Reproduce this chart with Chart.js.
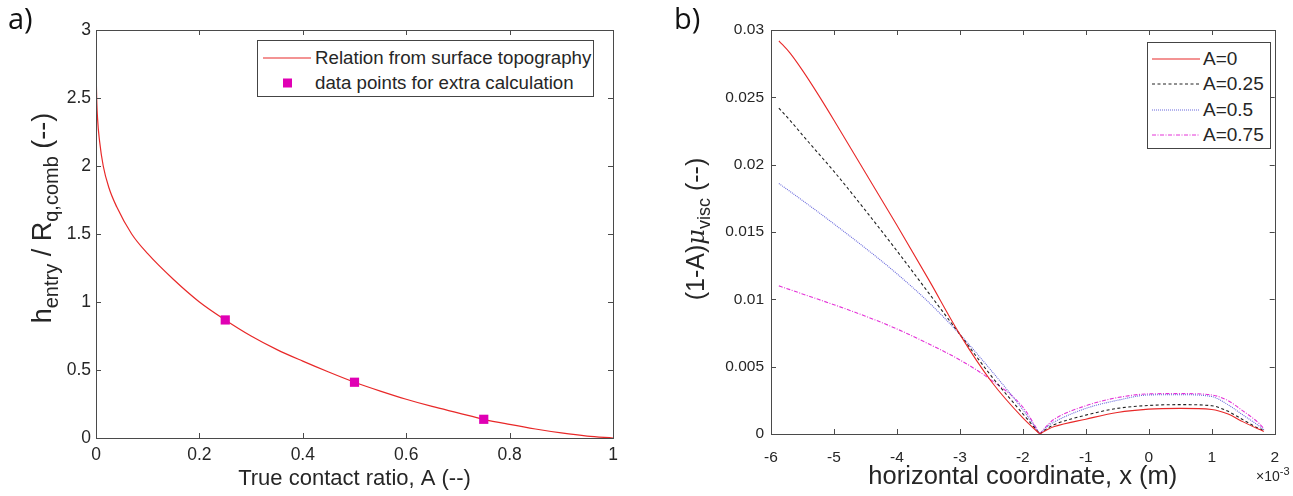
<!DOCTYPE html>
<html>
<head>
<meta charset="utf-8">
<script src="https://cdn.jsdelivr.net/npm/chart.js@4.4.1/dist/chart.umd.min.js"></script>
<style>
  body { margin: 0; background: #fff; font-family: 'Liberation Sans', Arial, sans-serif; color: #262626; }
  #page { position: relative; width: 1293px; height: 496px; overflow: hidden; }
  canvas { position: absolute; top: 0; }
  .txt { position: absolute; white-space: nowrap; line-height: 1; }
  .panel { font-family: 'Open Sans', sans-serif; font-size: 29px; color: #111; }
  .ytitle { position: absolute; white-space: nowrap; transform: translate(-50%, -50%) rotate(-90deg); line-height: 1; }
  .legend { position: absolute; border: 1px solid #444; background: #fff; box-sizing: border-box; }
  .leg-row { position: absolute; display: flex; align-items: center; white-space: nowrap; }
</style>
</head>
<body>
<div id="page">
  <canvas id="chartA" width="640" height="496" style="left:0"></canvas>
  <canvas id="chartB" width="648" height="496" style="left:645px"></canvas>

  <div class="txt panel" style="left:8px; top:3px;">a)</div>
  <div class="txt panel" style="left:674px; top:3px;">b)</div>

  <div class="ytitle" style="left:45px; top:218px; font-size:27px;">h<sub style="font-size:20px; vertical-align:-7px">entry</sub> / R<sub style="font-size:20px; vertical-align:-7px">q,comb</sub> (--)</div>
  <div class="ytitle" style="left:698px; top:229px; font-size:25px;">(1-A)<span style="font-family:'DejaVu Serif'; font-style:italic; font-size:24px">μ</span><sub style="font-size:18px; vertical-align:-6px">visc</sub> (--)</div>

  <div class="txt" style="left:1256px; top:466px; font-size:14px;">×10<sup style="font-size:11px; vertical-align:6px">-3</sup></div>

  <div class="legend" style="left:257px; top:40px; width:337px; height:57px;">
    <div class="leg-row" style="left:5px; top:6px; height:22px;">
      <svg width="48" height="4"><line x1="0" y1="2" x2="48" y2="2" stroke="rgb(232,40,40)" stroke-width="1.2"/></svg>
      <span style="font-size:18.7px; margin-left:4px;">Relation from surface topography</span>
    </div>
    <div class="leg-row" style="left:5px; top:31px; height:22px;">
      <svg width="48" height="12"><rect x="20" y="1.5" width="9" height="9" fill="#e000b4"/></svg>
      <span style="font-size:18.7px; margin-left:4px;">data points for extra calculation</span>
    </div>
  </div>

  <div class="legend" style="left:1147px; top:42px; width:124px; height:107px;">
    <div class="leg-row" style="left:4px; top:5px; height:22px;">
      <svg width="48" height="4"><line x1="0" y1="2" x2="48" y2="2" stroke="rgb(232,40,40)" stroke-width="1.2"/></svg>
      <span style="font-size:19px; margin-left:3px;">A=0</span>
    </div>
    <div class="leg-row" style="left:4px; top:30px; height:22px;">
      <svg width="48" height="4"><line x1="0" y1="2" x2="48" y2="2" stroke="#222" stroke-width="1" stroke-dasharray="3,2.5"/></svg>
      <span style="font-size:19px; margin-left:3px;">A=0.25</span>
    </div>
    <div class="leg-row" style="left:4px; top:56px; height:22px;">
      <svg width="48" height="4"><line x1="0" y1="2" x2="48" y2="2" stroke="rgb(105,105,220)" stroke-width="1" stroke-dasharray="1,1"/></svg>
      <span style="font-size:19px; margin-left:3px;">A=0.5</span>
    </div>
    <div class="leg-row" style="left:4px; top:81px; height:22px;">
      <svg width="48" height="4"><line x1="0" y1="2" x2="48" y2="2" stroke="rgb(228,50,215)" stroke-width="1" stroke-dasharray="4,1.5,1,1.5"/></svg>
      <span style="font-size:19px; margin-left:3px;">A=0.75</span>
    </div>
  </div>
</div>

<script>
// a) entry film thickness vs true contact ratio
const contactRatio = [0, 0.0003, 0.001, 0.003, 0.007, 0.014, 0.025, 0.04, 0.069, 0.1, 0.15, 0.2, 0.25, 0.3, 0.35, 0.4, 0.45, 0.5, 0.55, 0.6, 0.65, 0.7, 0.75, 0.8, 0.85, 0.9, 0.95, 1];
const hEntry = [3.0, 2.75, 2.55, 2.35, 2.18, 2.0, 1.84, 1.7, 1.5, 1.355, 1.165, 1.0, 0.868, 0.75, 0.65, 0.565, 0.485, 0.41, 0.345, 0.285, 0.232, 0.185, 0.1375, 0.1, 0.066, 0.037, 0.014, 0];
const extraA = [0.25, 0.5, 0.75];
const extraH = [0.868, 0.41, 0.1375];

// b) (1-A) mu_visc along x (x in units of 1e-3 m)
const xCoord = [-5.875, -5.7, -5.5, -5.25, -5, -4.5, -4, -3.5, -3, -2.5, -2, -1.73, -1.6, -1.5, -1, -0.5, 0, 0.5, 1, 1.25, 1.5, 1.75, 1.83];
const muA0 = [0.0292, 0.0283, 0.0270, 0.0252, 0.0233, 0.0194, 0.0155, 0.0115, 0.0074, 0.0039, 0.0012, 0, 0.00035, 0.00055, 0.0011, 0.0016, 0.00185, 0.0019, 0.00182, 0.0015, 0.0009, 0.00035, 0.0002];
const muA025 = [0.0242, 0.0233, 0.0222, 0.02085, 0.0195, 0.0166, 0.0136, 0.0105, 0.0074, 0.0043, 0.0015, 0, 0.00045, 0.0007, 0.0014, 0.0019, 0.00212, 0.00218, 0.0021, 0.0017, 0.00105, 0.0004, 0.00025];
const muA05 = [0.0186, 0.01802, 0.01734, 0.01648, 0.0156, 0.0138, 0.0119, 0.0098, 0.0074, 0.0047, 0.0018, 0, 0.0006, 0.0009, 0.0019, 0.0025, 0.0029, 0.00292, 0.00278, 0.0022, 0.0014, 0.0006, 0.0003];
const muA075 = [0.0110, 0.01072, 0.0104, 0.0100, 0.0096, 0.00875, 0.0078, 0.0067, 0.0055, 0.0040, 0.0020, 0, 0.0007, 0.0011, 0.0021, 0.0027, 0.00298, 0.003, 0.0029, 0.0025, 0.0017, 0.0008, 0.0004];
const vIndex = xCoord.indexOf(-1.73); // the sharp minimum, each curve is drawn as two branches

const toPts = (xs, ys) => xs.map((x, i) => ({ x: x, y: ys[i] }));

// matlab style box with inward ticks on all four sides
const boxTicks = {
    id: 'boxTicks',
    afterDatasetsDraw(chart) {
        const { ctx, chartArea: a, scales: { x, y } } = chart;
        ctx.save();
        ctx.strokeStyle = '#4a4a4a';
        ctx.lineWidth = 1;
        ctx.strokeRect(Math.round(a.left) + 0.5, Math.round(a.top) + 0.5, Math.round(a.width), Math.round(a.height));
        ctx.beginPath();
        x.ticks.forEach(t => {
            const px = Math.round(x.getPixelForValue(t.value)) + 0.5;
            ctx.moveTo(px, a.bottom); ctx.lineTo(px, a.bottom - 5);
            ctx.moveTo(px, a.top); ctx.lineTo(px, a.top + 5);
        });
        y.ticks.forEach(t => {
            const py = Math.round(y.getPixelForValue(t.value)) + 0.5;
            ctx.moveTo(a.left, py); ctx.lineTo(a.left + 5, py);
            ctx.moveTo(a.right, py); ctx.lineTo(a.right - 5, py);
        });
        ctx.stroke();
        ctx.restore();
    }
};

const fam = "'Liberation Sans', Arial, sans-serif";

function axes(o) {
    return {
        x: {
            type: 'linear', min: o.xMin, max: o.xMax,
            grid: { display: false, drawTicks: false }, border: { display: false },
            ticks: { stepSize: o.xStep, font: { family: fam, size: o.tickSize }, color: '#262626', padding: o.xPad, maxRotation: 0,
                callback: v => String(+v.toFixed(4)) },
            title: { display: true, text: o.xTitle, font: { family: fam, size: o.titleSize }, color: '#262626', padding: { top: 0, bottom: 4 } },
            afterFit: s => { s.height = o.xHeight; }
        },
        y: {
            type: 'linear', min: o.yMin, max: o.yMax,
            grid: { display: false, drawTicks: false }, border: { display: false },
            ticks: { stepSize: o.yStep, font: { family: fam, size: o.tickSize }, color: '#262626', padding: o.yPad,
                callback: v => String(+v.toFixed(4)) },
            afterFit: s => { s.width = o.yWidth; }
        }
    };
}

const common = {
    responsive: false,
    animation: false,
    devicePixelRatio: 1,
    plugins: { legend: { display: false }, tooltip: { enabled: false } }
};

new Chart(document.getElementById('chartA'), { // eslint-disable-line
    type: 'scatter',
    data: {
        datasets: [
            {
                label: 'data points for extra calculation',
                data: toPts(extraA, extraH),
                pointStyle: 'rect',
                pointRadius: 6.5,
                backgroundColor: '#e000b4',
                borderColor: '#e000b4',
                borderWidth: 0,
                showLine: false
            },
            {
                label: 'Relation from surface topography',
                data: toPts(contactRatio, hEntry),
                showLine: true,
                pointRadius: 0,
                borderColor: 'rgb(232,40,40)',
                borderWidth: 1.2,
                cubicInterpolationMode: 'monotone'
            }
        ]
    },
    options: {
        ...common,
        layout: { padding: { top: 30, right: 27, left: 0, bottom: 0 } },
        scales: axes({ xMin: 0, xMax: 1, xStep: 0.2, yMin: 0, yMax: 3, yStep: 0.5,
            yWidth: 96, xHeight: 58, tickSize: 17.5, xPad: 7, yPad: 5,
            xTitle: 'True contact ratio, A (--)', titleSize: 22 })
    },
    plugins: [boxTicks]
});

const branch = (label, xs, ys, color, dash) => ({
    label: label,
    data: toPts(xs, ys),
    showLine: true,
    pointRadius: 0,
    borderColor: color,
    borderWidth: 1.1,
    borderDash: dash,
    cubicInterpolationMode: 'monotone'
});

// left branch up to the minimum, right branch from it
const series = (label, ys, color, dash) => [
    branch(label, xCoord.slice(0, vIndex + 1), ys.slice(0, vIndex + 1), color, dash),
    branch(label, xCoord.slice(vIndex), ys.slice(vIndex), color, dash)
];

new Chart(document.getElementById('chartB'), { // eslint-disable-line
    type: 'scatter',
    data: {
        datasets: [
            ...series('A=0', muA0, 'rgb(232,40,40)', []),
            ...series('A=0.25', muA025, '#222', [3, 2.5]),
            ...series('A=0.5', muA05, 'rgb(105,105,220)', [1, 1]),
            ...series('A=0.75', muA075, 'rgb(228,50,215)', [4, 1.5, 1, 1.5])
        ]
    },
    options: {
        ...common,
        layout: { padding: { top: 30, right: 10, left: 0, bottom: 0 } },
        scales: axes({ xMin: -6, xMax: 2, xStep: 1, yMin: 0, yMax: 0.03, yStep: 0.005,
            yWidth: 126, xHeight: 62, tickSize: 15.5, xPad: 14, yPad: 7,
            xTitle: 'horizontal coordinate, x (m)', titleSize: 25.5 })
    },
    plugins: [boxTicks]
});
</script>
</body>
</html>
